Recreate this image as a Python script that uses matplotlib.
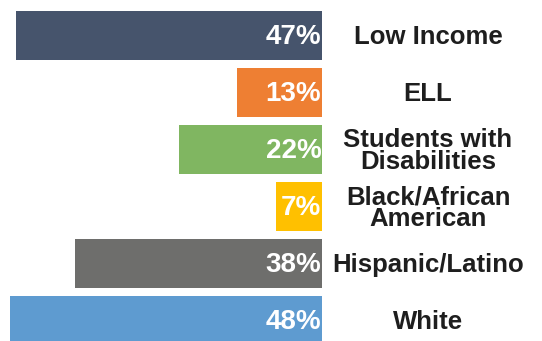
import matplotlib.pyplot as plt
import matplotlib.transforms as mtransforms

groups = ["Low Income", "ELL", "Students with\nDisabilities", "Black/African\nAmerican",
          "Hispanic/Latino", "White"]
shares = [47, 13, 22, 7, 38, 48]
colors = ["#46546C", "#EE7F33", "#80B661", "#FFC000", "#6E6E6C", "#5E9BD0"]

fig = plt.figure(figsize=(5.42, 3.41), dpi=100)
ax = fig.add_axes([0, 0, 322 / 542, 1])

ypos = list(range(len(groups)))
ax.barh(ypos, shares, height=0.86, color=colors)
ax.set_xlim(49.5, 0)
ax.set_ylim(5.36, -0.623)
ax.axis("off")

label_font = ["Liberation Sans", "DejaVu Sans"]
for y, v in zip(ypos, shares):
    ax.text(0.1, y + 0.03, f"{v}%", ha="right", va="center", color="white",
            fontsize=20, fontweight="bold", family=label_font)

trans = mtransforms.blended_transform_factory(fig.transFigure, ax.transData)
for y, name in zip(ypos, groups):
    ax.text(428 / 542, y + 0.03, name, transform=trans, ha="center", va="center",
            fontsize=18.5, fontweight="bold", family=label_font,
            color="#1E1E1E", linespacing=0.9, clip_on=False)

fig.savefig("out.png", dpi=100)
